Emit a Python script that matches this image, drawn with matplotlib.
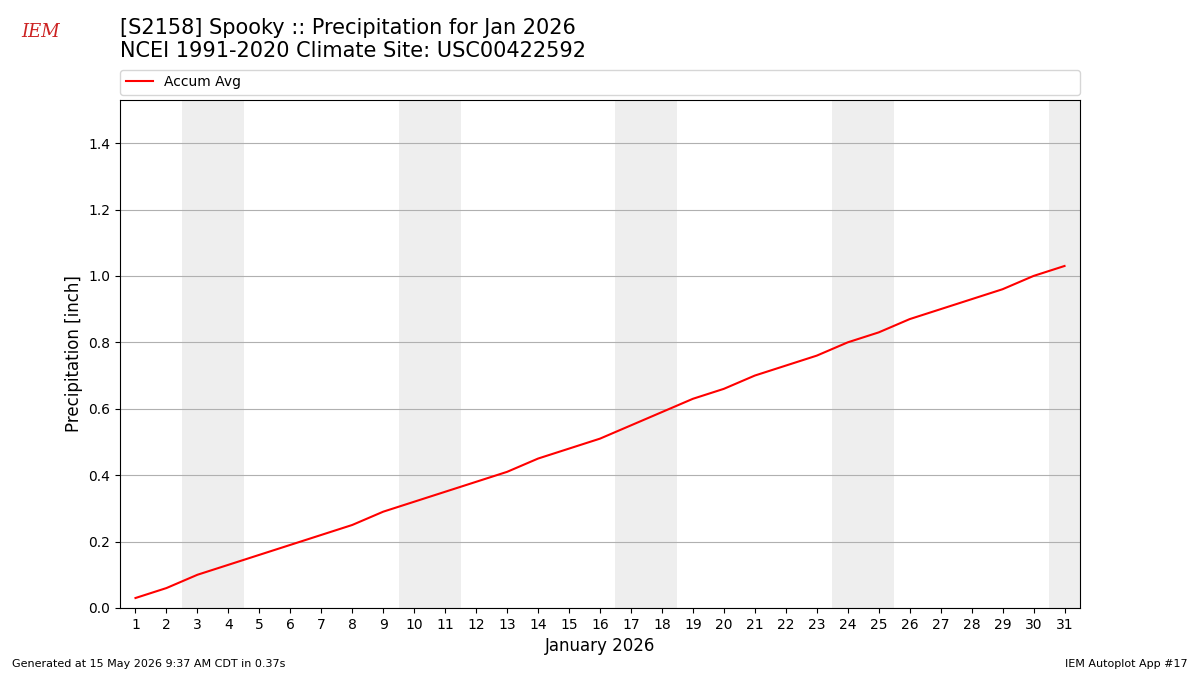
import matplotlib
matplotlib.use("Agg")
import matplotlib.pyplot as plt

# =============================
# Data
# =============================
days = list(range(1, 32))
accum_avg = [0.03, 0.06, 0.10, 0.13, 0.16, 0.19, 0.22, 0.25, 0.29, 0.32,
             0.35, 0.38, 0.41, 0.45, 0.48, 0.51, 0.55, 0.59, 0.63, 0.66,
             0.70, 0.73, 0.76, 0.80, 0.83, 0.87, 0.90, 0.93, 0.96, 1.00, 1.03]
weekend_days = [3, 4, 10, 11, 17, 18, 24, 25, 31]

# =============================
# Plot
# =============================
fig = plt.figure(figsize=(12, 6.75), dpi=100)
ax = fig.add_axes([0.1, 0.0993, 0.8, 0.7526])

for d in weekend_days:
    ax.axvspan(d - 0.5, d + 0.5, color="#eeeeee", zorder=0, lw=0)

ax.plot(days, accum_avg, color="red", label="Accum Avg", zorder=3)
ax.set_xlim(0.5, 31.5)
ax.set_ylim(0, 1.53)
ax.set_xticks(days)
ax.grid(axis="y", color="#b0b0b0")
ax.set_axisbelow(True)
ax.set_xlabel("January 2026", fontsize=12)
ax.set_ylabel("Precipitation [inch]", fontsize=12)

ax.legend(loc="lower left", bbox_to_anchor=(0, 1.01, 1, 0.05), mode="expand",
          ncol=1, fontsize=10, borderaxespad=0)

fig.text(0.1, 0.91, "[S2158] Spooky :: Precipitation for Jan 2026\n"
         "NCEI 1991-2020 Climate Site: USC00422592", fontsize=15, va="bottom")
fig.text(0.018, 0.945, "IEM", color="#cc2222", fontsize=13, style="italic",
         family="DejaVu Serif")
fig.text(0.01, 0.012, "Generated at 15 May 2026 9:37 AM CDT in 0.37s", fontsize=8)
fig.text(0.99, 0.012, "IEM Autoplot App #17", fontsize=8, ha="right")

fig.savefig("out.png", dpi=100)
plt.close()
